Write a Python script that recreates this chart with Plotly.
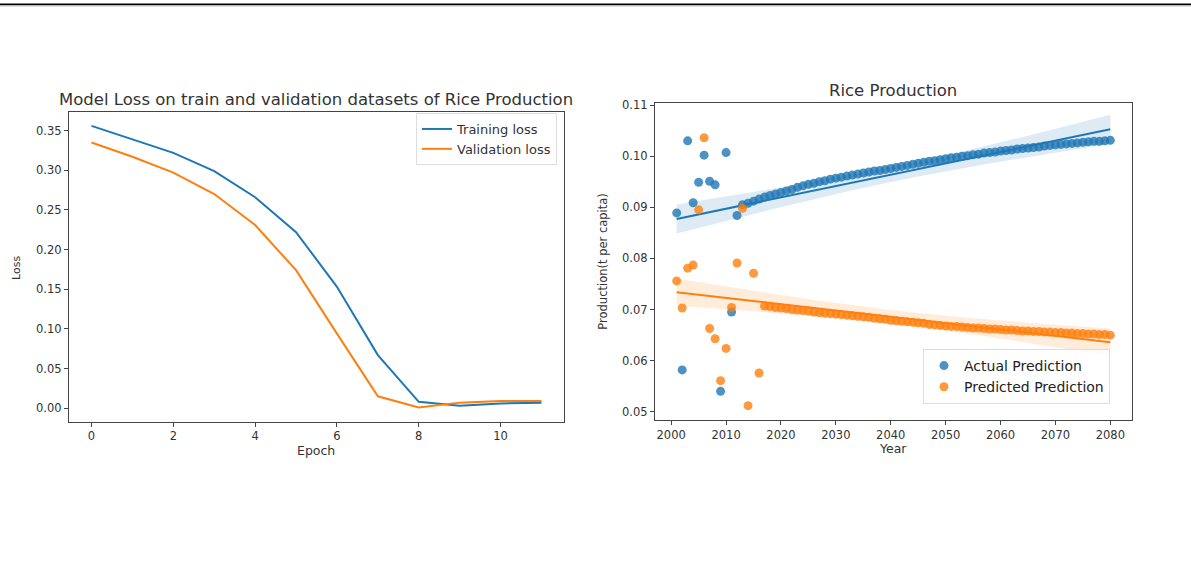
import numpy as np
import plotly.graph_objects as go

# ---------------- data ----------------
epochs = list(range(12))
training_loss = [0.356, 0.339, 0.322, 0.299, 0.266, 0.222, 0.153, 0.067, 0.008, 0.003, 0.006, 0.007]
validation_loss = [0.335, 0.317, 0.297, 0.270, 0.231, 0.174, 0.094, 0.015, 0.001, 0.007, 0.009, 0.009]

years = list(range(2001, 2081))
actual_prediction = [
    0.0889, 0.0582, 0.1030, 0.0909, 0.0949, 0.1002, 0.0951, 0.0944, 0.0540, 0.1007,
    0.0695, 0.0884, 0.0905, 0.0908, 0.0912, 0.0916, 0.0920, 0.0923, 0.0926, 0.0929,
    0.0932, 0.0935, 0.0939, 0.0942, 0.0945, 0.0947, 0.0950, 0.0952, 0.0955, 0.0957,
    0.0959, 0.0961, 0.0963, 0.0965, 0.0967, 0.0969, 0.0971, 0.0972, 0.0974, 0.0976,
    0.0978, 0.0980, 0.0982, 0.0984, 0.0986, 0.0988, 0.0990, 0.0991, 0.0993, 0.0995,
    0.0997, 0.0998, 0.1000, 0.1001, 0.1003, 0.1004, 0.1006, 0.1007, 0.1008, 0.1010,
    0.1011, 0.1012, 0.1014, 0.1015, 0.1016, 0.1017, 0.1018, 0.1020, 0.1021, 0.1022,
    0.1023, 0.1024, 0.1025, 0.1026, 0.1027, 0.1028, 0.1029, 0.1029, 0.1030, 0.1031,
]
predicted_prediction = [
    0.0756, 0.0703, 0.0781, 0.0787, 0.0895, 0.1036, 0.0663, 0.0643, 0.0561, 0.0624,
    0.0704, 0.0791, 0.0898, 0.0512, 0.0771, 0.0576, 0.0707, 0.0706, 0.0704, 0.0703,
    0.0702, 0.0700, 0.0699, 0.0698, 0.0697, 0.0695, 0.0694, 0.0693, 0.0692, 0.0691,
    0.0690, 0.0689, 0.0688, 0.0687, 0.0686, 0.0685, 0.0683, 0.0682, 0.0681, 0.0679,
    0.0678, 0.0677, 0.0676, 0.0675, 0.0674, 0.0673, 0.0671, 0.0670, 0.0669, 0.0668,
    0.0667, 0.0667, 0.0666, 0.0665, 0.0664, 0.0664, 0.0663, 0.0662, 0.0662, 0.0661,
    0.0660, 0.0660, 0.0659, 0.0658, 0.0658, 0.0657, 0.0657, 0.0656, 0.0656, 0.0655,
    0.0655, 0.0654, 0.0654, 0.0653, 0.0653, 0.0652, 0.0652, 0.0651, 0.0651, 0.0650,
]

BLUE = "#1f77b4"
ORANGE = "#ff7f0e"
FONT = "DejaVu Sans"
W, H = 1191, 563


def linfit_ci(x, y, t=1.9908):
    x = np.asarray(x, float)
    y = np.asarray(y, float)
    b, a = np.polyfit(x, y, 1)
    fit = a + b * x
    n = len(x)
    s = np.sqrt(np.sum((y - fit) ** 2) / (n - 2))
    sxx = np.sum((x - x.mean()) ** 2)
    se = s * np.sqrt(1.0 / n + (x - x.mean()) ** 2 / sxx)
    return fit, fit - t * se, fit + t * se


def px_x(p):
    return p / W


def px_y(p):
    return 1 - p / H


fig = go.Figure()

# ---------------- left: loss curves ----------------
fig.add_trace(go.Scatter(x=epochs, y=training_loss, mode="lines", name="Training loss",
                         line=dict(color=BLUE, width=2), xaxis="x", yaxis="y", legend="legend"))
fig.add_trace(go.Scatter(x=epochs, y=validation_loss, mode="lines", name="Validation loss",
                         line=dict(color=ORANGE, width=2), xaxis="x", yaxis="y", legend="legend"))

# ---------------- right: regplots ----------------
for vals, color, rgba, name in [
    (actual_prediction, BLUE, "rgba(31,119,180,0.15)", "Actual Prediction"),
    (predicted_prediction, ORANGE, "rgba(255,127,14,0.15)", "Predicted Prediction"),
]:
    fig.add_trace(go.Scatter(x=years, y=vals, mode="markers", name=name,
                             marker=dict(color=color, size=9, opacity=0.8, line=dict(width=0)),
                             xaxis="x2", yaxis="y2", legend="legend2"))
    fit, lo, hi = linfit_ci(years, vals)
    fig.add_trace(go.Scatter(x=years + years[::-1], y=list(hi) + list(lo[::-1]),
                             fill="toself", fillcolor=rgba, line=dict(width=0),
                             mode="lines", showlegend=False, hoverinfo="skip",
                             xaxis="x2", yaxis="y2"))
    fig.add_trace(go.Scatter(x=years, y=fit, mode="lines", line=dict(color=color, width=2),
                             showlegend=False, xaxis="x2", yaxis="y2"))

axis_common = dict(showgrid=False, zeroline=False, showline=True, mirror=True, automargin=False,
                   linecolor="#444", linewidth=1.2, ticks="outside", ticklen=4,
                   tickcolor="#444", tickfont=dict(family=FONT, size=11.5, color="#333"))

fig.update_layout(
    width=W, height=H,
    margin=dict(l=0, r=0, t=0, b=0, autoexpand=False),
    paper_bgcolor="white", plot_bgcolor="white",
    font=dict(family=FONT, color="#222"),
    xaxis=dict(domain=[px_x(69), px_x(564)], range=[-0.55, 11.55], dtick=2, tick0=0,
               anchor="y", **axis_common),
    yaxis=dict(domain=[px_y(421.5), px_y(112)], range=[-0.0168, 0.3735], dtick=0.05,
               tickformat=".2f", anchor="x", **axis_common),
    xaxis2=dict(domain=[px_x(655), px_x(1132)], range=[1997.05, 2083.95], dtick=10, tick0=2000,
                anchor="y2", **axis_common),
    yaxis2=dict(domain=[px_y(420), px_y(103)], range=[0.0484, 0.1104], dtick=0.01,
                tickformat=".2f", anchor="x2", **axis_common),
    legend=dict(x=px_x(557), y=px_y(113), xanchor="right", yanchor="top",
                bgcolor="rgba(255,255,255,0.8)", bordercolor="#ddd", borderwidth=1,
                font=dict(family=FONT, size=13, color="#333"), tracegroupgap=0),
    legend2=dict(x=px_x(1110), y=px_y(404), xanchor="right", yanchor="bottom",
                 bgcolor="rgba(255,255,255,0.8)", bordercolor="#ddd", borderwidth=1,
                 font=dict(family=FONT, size=14, color="#222"), tracegroupgap=0),
    showlegend=True,
)

annotations = [
    dict(text="Model Loss on train and validation datasets of Rice Production", x=px_x(316), y=px_y(99.3),
         font=dict(size=16.5)),
    dict(text="Epoch", x=px_x(316), y=px_y(450), font=dict(size=12.5)),
    dict(text="Loss", x=px_x(16), y=px_y(268), font=dict(size=11), textangle=-90),
    dict(text="Rice Production", x=px_x(893), y=px_y(90), font=dict(size=16.5)),
    dict(text="Year", x=px_x(893), y=px_y(448.3), font=dict(size=12.5)),
    dict(text="Production(t per capita)", x=px_x(603), y=px_y(261.7), font=dict(size=11.5), textangle=-90),
]
for a in annotations:
    fig.add_annotation(xref="paper", yref="paper", showarrow=False, xanchor="center", yanchor="middle",
                       font_family=FONT, font_color="#333", **a)

# separator line at the very top of the page
fig.add_shape(type="line", xref="paper", yref="paper", x0=0, x1=1, y0=px_y(4.3), y1=px_y(4.3),
              line=dict(color="black", width=1.6))
fig.add_shape(type="line", xref="paper", yref="paper", x0=0, x1=1, y0=px_y(5.8), y1=px_y(5.8),
              line=dict(color="#999", width=1))

fig.write_html("out.html")
